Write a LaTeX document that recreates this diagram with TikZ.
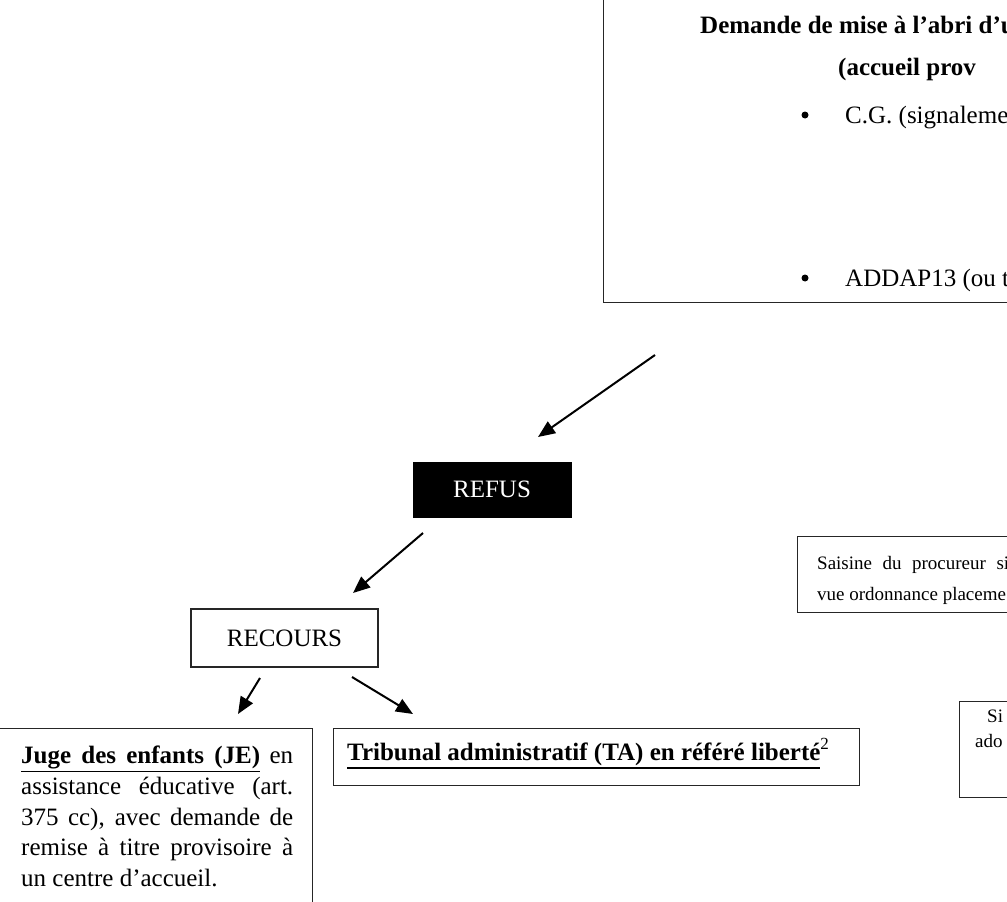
\documentclass[tikz,border=0pt]{standalone}
\usepackage{fontspec}
\setmainfont{Liberation Serif}
\usetikzlibrary{arrows.meta}
% bold heading with a heavy underline set below the baseline
\newcommand{\ulthick}[1]{\vtop{\hbox{#1}\kern2pt\hrule height 1.8pt}}
\newcommand{\footmark}[1]{\raisebox{11pt}{\fontsize{17}{17}\selectfont #1}}
\tikzset{
  frame/.style={draw=black!85, line width=1.1pt, rectangle, inner sep=0pt},
  bigtext/.style={font=\fontsize{25}{30.75}\selectfont, inner sep=0pt},
  boldtext/.style={font=\fontsize{25}{30.75}\selectfont\bfseries, inner sep=0pt},
  smalltext/.style={font=\fontsize{19}{24}\selectfont, inner sep=0pt},
  bulletdot/.style={circle, fill=black, inner sep=0pt, minimum size=7pt},
  flow/.style={line width=2pt, -{Triangle[length=17pt,width=14pt]}},
}
\begin{document}
\begin{tikzpicture}[x=1pt, y=-1pt]
\useasboundingbox (0,0) rectangle (1007,902);
\clip (0,0) rectangle (1007,902);

% request box at the top right
\node[frame, anchor=north west, minimum width=420pt, minimum height=312pt] (demande) at (603,-10) {};
\node[boldtext, anchor=base west] (titre) at (700,33) {Demande de mise à l’abri d’u};
\node[boldtext, anchor=base west] (soustitre) at (838,75) {(accueil prov};
\node[bulletdot] (puce1) at (805,115) {};
\node[bigtext, anchor=base west] (cg) at (845,123) {C.G. (signaleme};
\node[bulletdot] (puce2) at (805,278) {};
\node[bigtext, anchor=base west] (addap) at (845,286) {ADDAP13 (ou t};

% refusal and appeal
\node[bigtext, fill=black, draw=black, text=white, minimum width=158pt, minimum height=55pt] (refus) at (492,489.5) {REFUS};
\node[bigtext, frame, minimum width=187pt, minimum height=58pt] (recours) at (284.5,638) {RECOURS};

% juvenile judge
\node[frame, anchor=north west, minimum width=316pt, minimum height=200pt] (je) at (-4,728) {};
\node[bigtext, anchor=base west] (je1) at (21,763) {\makebox[272pt][s]{\ulthick{\makebox[239pt][s]{\bfseries Juge des enfants (JE)}} en}};
\node[bigtext, anchor=base west] (je2) at (21,794) {\makebox[272pt][s]{assistance éducative (art.}};
\node[bigtext, anchor=base west] (je3) at (21,825) {\makebox[272pt][s]{375 cc), avec demande de}};
\node[bigtext, anchor=base west] (je4) at (21,855) {\makebox[272pt][s]{remise à titre provisoire à}};
\node[bigtext, anchor=base west] (je5) at (21,886) {un centre d’accueil.};

% administrative court
\node[frame, anchor=north west, minimum width=526pt, minimum height=57pt] (ta) at (333,728) {};
\node[bigtext, anchor=base west] (tatext) at (347,760) {\ulthick{\bfseries Tribunal administratif (TA) en référé liberté}\footmark{2}};

% prosecutor referral
\node[frame, anchor=north west, minimum width=230pt, minimum height=76pt] (saisine) at (797,536) {};
\node[smalltext, anchor=base west] (sa1) at (817,569) {\makebox[192pt][s]{Saisine du procureur si}};
\node[smalltext, anchor=base west] (sa2) at (817,600) {vue ordonnance placeme};

% teenager box
\node[frame, anchor=north west, minimum width=70pt, minimum height=96pt] (si) at (959,701) {};
\node[smalltext, anchor=base west] (si1) at (987,722) {Si};
\node[smalltext, anchor=base west] (si2) at (975,747) {ado};

% arrow end points
\coordinate (a1s) at (655,355);
\coordinate (a1e) at (538,437);
\coordinate (a2s) at (423,533);
\coordinate (a2e) at (353,593);
\coordinate (a3s) at (260,678);
\coordinate (a3e) at (238,714);
\coordinate (a4s) at (352,677);
\coordinate (a4e) at (413,714);

\draw[flow] (a1s) -- (a1e);
\draw[flow] (a2s) -- (a2e);
\draw[flow] (a3s) -- (a3e);
\draw[flow] (a4s) -- (a4e);
\end{tikzpicture}
\end{document}
